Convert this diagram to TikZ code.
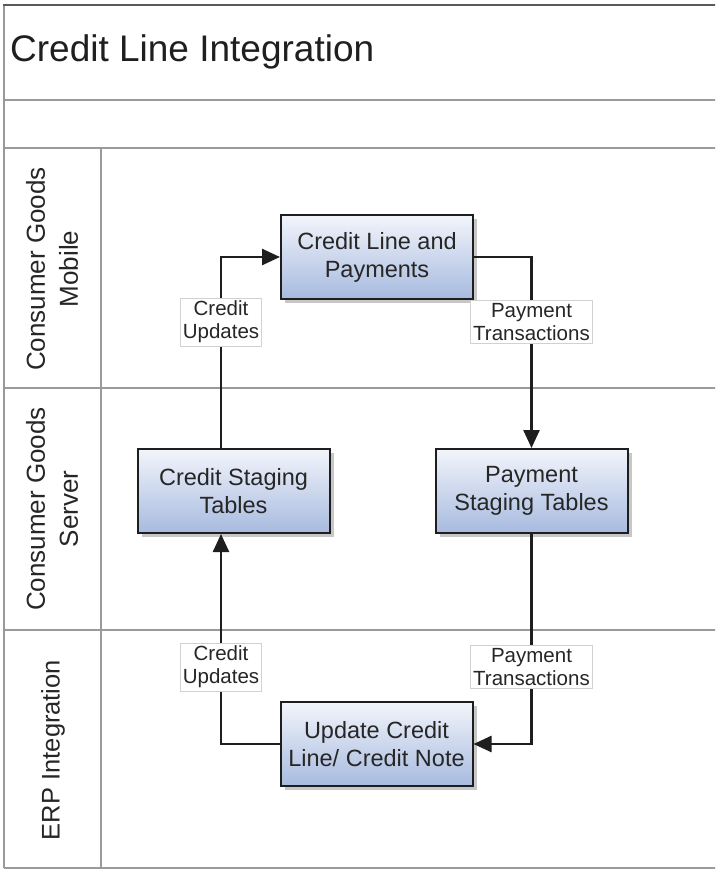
\documentclass[tikz,border=0pt]{standalone}
\usepackage{fontspec}
\setmainfont{Liberation Sans}
\usetikzlibrary{shadows,arrows.meta}
\definecolor{lanegray}{HTML}{9A9A9A}
\definecolor{topgray}{HTML}{5A5A5A}
\definecolor{boxtop}{HTML}{F2F5FB}
\definecolor{boxbot}{HTML}{A7BADF}
\definecolor{inkc}{HTML}{1E1E1E}
\tikzset{
  laneline/.style={draw=lanegray, line width=1.6pt},
  procbox/.style={draw=inkc, line width=2pt, top color=boxtop, bottom color=boxbot,
    minimum width=192pt, minimum height=84pt, align=center, inner sep=0pt,
    font=\fontsize{23.5}{28}\selectfont, text=black!85,
    drop shadow={shadow xshift=4pt, shadow yshift=-4pt, fill=black!22, opacity=1}},
  flow/.style={draw=inkc, line width=2.5pt, -{Triangle[length=18pt,width=16pt]}},
  flowlbl/.style={fill=white, draw=black!18, line width=0.6pt, align=center, inner xsep=2.5pt, inner ysep=2.8pt,
    font=\fontsize{20.5}{23}\selectfont, text=black!85},
  lanelbl/.style={rotate=90, align=center, text=black!85}
}
\begin{document}
\begin{tikzpicture}[x=1pt,y=-1pt]
\useasboundingbox (0,0) rectangle (715,869);
\begin{scope}
\clip (0,0) rectangle (715,869);
% pool frame
\draw[laneline] (4,100) -- (720,100);
\draw[laneline] (4,148) -- (720,148);
\draw[laneline] (4,388) -- (720,388);
\draw[laneline] (4,630) -- (720,630);
\draw[laneline] (4,868) -- (720,868);
\draw[laneline] (101,148) -- (101,868);
\draw[laneline] (4,5) -- (4,868);
\draw[draw=topgray, line width=2pt] (3,5) -- (720,5);
\end{scope}

\node[anchor=west, inner sep=0pt, text=black!88] (title) at (10,52) {\fontsize{37}{40}\selectfont Credit Line Integration};

\node[lanelbl, font=\fontsize{26}{33}\selectfont] (lane1) at (52,269) {Consumer Goods\\Mobile};
\node[lanelbl, font=\fontsize{26}{33}\selectfont] (lane2) at (52,509) {Consumer Goods\\Server};
\node[lanelbl, font=\fontsize{25.5}{30}\selectfont] (lane3) at (53,750) {ERP Integration};

\node[procbox] (CLP) at (377,257) {Credit Line and\\Payments};
\node[procbox] (CST) at (233.5,491) {Credit Staging\\Tables};
\node[procbox] (PST) at (531.5,491) {Payment\\Staging Tables};
\node[procbox] (UPD) at (376.5,744) {Update Credit\\Line/ Credit Note};

\coordinate (lx) at (221,0);

\draw[flow] (CST.north -| lx) |- (CLP.west);
\draw[flow] (CLP.east) -| (PST.north);
\draw[flow] (PST.south) |- (UPD.east);
\draw[flow] (UPD.west) -| (CST.south -| lx);

\node[flowlbl] (l1) at (221,322) {Credit\\Updates};
\node[flowlbl] (l2) at (531.5,322) {Payment\\Transactions};
\node[flowlbl] (l3) at (221,667) {Credit\\Updates};
\node[flowlbl] (l4) at (531.5,667) {Payment\\Transactions};
\end{tikzpicture}
\end{document}
